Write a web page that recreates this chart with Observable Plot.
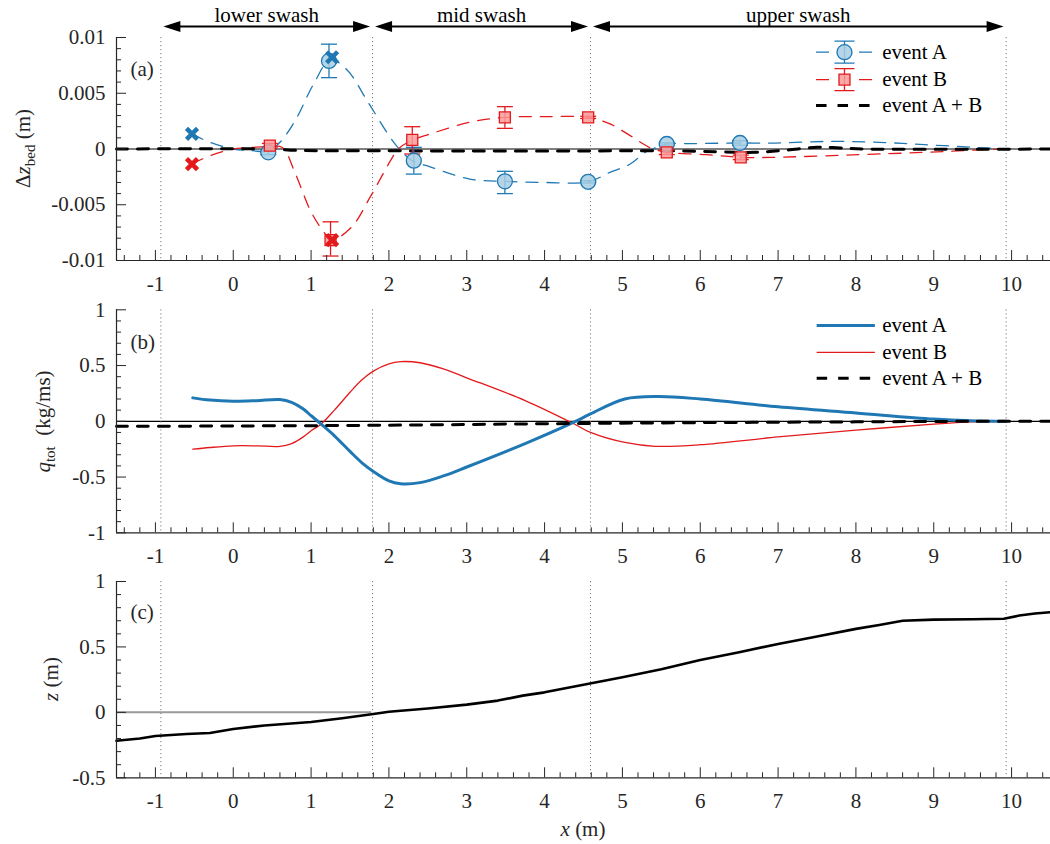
<!DOCTYPE html>
<html>
<head>
<meta charset="utf-8">
<script src="https://cdn.jsdelivr.net/npm/d3@7"></script>
<script src="https://cdn.jsdelivr.net/npm/@observablehq/plot@0.6"></script>
<style>
  body { margin: 0; background: #fff; }
  #chart { width: 1050px; }
  #chart svg { display: block; }
  #chart svg, #chart svg text, #chart svg tspan { font-family: "Liberation Serif", "Times New Roman", Times, serif !important; }
</style>
</head>
<body>
<div id="chart"></div>
<script>
// ---------- shared x axis ----------
const xTicks = [-1, 0, 1, 2, 3, 4, 5, 6, 7, 8, 9, 10];
const xTickLabels = ["-1", "0", "1", "2", "3", "4", "5", "6", "7", "8", "9", "10"];
const xMinor = d3.range(-7, 53).filter(i => i % 5 !== 0).map(i => i / 5);
const zoneEdges = [-0.93, 1.79, 4.59, 9.93];
const zoneNames = ["lower swash", "mid swash", "upper swash"];

// ---------- panel (a): bed change ----------
const yTicksA = [-0.01, -0.005, 0, 0.005, 0.01];
const yTickLabelsA = ["-0.01", "-0.005", "0", "0.005", "0.01"];
const yMinorA = d3.range(-10, 11).filter(i => i % 5 !== 0).map(i => i / 1000);

const dzCurveAx = [-0.53, -0.3, 0, 0.25, 0.45, 0.6, 0.8, 1.03, 1.25, 1.46, 1.74, 2.02, 2.12, 2.3, 2.53, 3.04, 3.5, 4.0, 4.56, 4.84, 5.1, 5.29, 5.39, 5.57, 5.91, 6.5, 6.9, 7.64, 8.3, 8.88, 9.52, 9.93];
const dzCurveAy = [0.00135, 0.0006, 0, -0.00015, -0.0002, 0.0006, 0.0026, 0.0058, 0.0080, 0.0071, 0.0041, 0.0010, 0.0001, -0.00105, -0.0016, -0.0027, -0.0029, -0.0030, -0.00294, -0.0021, -0.00135, -0.0003, 0, 0.00045, 0.00048, 0.00054, 0.00052, 0.00068, 0.0006, 0.00039, 0.00015, 0];
const dzCurveBx = [-0.53, -0.3, 0, 0.25, 0.47, 0.63, 0.8, 0.99, 1.12, 1.27, 1.52, 1.76, 2.02, 2.12, 2.3, 2.53, 3.04, 3.5, 4.0, 4.56, 4.84, 5.1, 5.27, 5.39, 5.57, 6.08, 6.52, 6.9, 8.03, 8.88, 9.52, 9.93];
const dzCurveBy = [-0.00135, -0.0006, 0, 0.00015, 0.00023, 0.00014, -0.00225, -0.0055, -0.0070, -0.0081, -0.0070, -0.0043, -0.00105, 0, 0.0008, 0.00135, 0.0024, 0.00284, 0.0029, 0.00284, 0.00225, 0.0012, 0.00045, 0, -0.0003, -0.00051, -0.00075, -0.00075, -0.00051, -0.0003, -0.0001, 0];
const dzSumX = [-1.5, 0.5, 0.8, 1.5, 3.0, 4.5, 5.5, 6.2, 6.7, 7.1, 7.5, 7.8, 8.1, 10.5];
const dzSumY = [0, 0, -0.00012, -0.00015, -0.00018, -0.00018, -0.00015, -0.00025, -0.0003, -0.0001, 0.00015, 0.0001, 0, 0];

const ptsAx = [0.45, 1.23, 2.32, 3.49, 4.56, 5.57, 6.51];
const ptsAy = [-0.0003, 0.0079, -0.00105, -0.0029, -0.00294, 0.00045, 0.00054];
const ptsAlo = [-0.0005, 0.0064, -0.00225, -0.0040, -0.00304, 0.00035, 0.00034];
const ptsAhi = [-0.0001, 0.0094, 0.00015, -0.0020, -0.00284, 0.00055, 0.00074];
const ptsBx = [0.47, 1.25, 2.30, 3.49, 4.56, 5.57, 6.52];
const ptsBy = [0.0003, -0.00818, 0.00081, 0.00284, 0.00284, -0.0003, -0.00075];
const ptsBlo = [0.0001, -0.0096, -0.00045, 0.00185, 0.00274, -0.0005, -0.00095];
const ptsBhi = [0.0005, -0.00653, 0.0020, 0.0038, 0.00294, -0.0001, -0.00055];

const crossX = [-0.53, 1.27];
const crossA = [0.00135, 0.00823];
const crossB = [-0.00135, -0.00818];

// ---------- panel (b): transport ----------
const yTicksB = [-1, -0.5, 0, 0.5, 1];
const yTickLabelsB = ["-1", "-0.5", "0", "0.5", "1"];
const yMinorB = d3.range(-10, 11).filter(i => i % 5 !== 0).map(i => i / 10);
const qAx = [-0.52, -0.3, 0, 0.3, 0.6, 0.75, 0.9, 1.0, 1.12, 1.3, 1.5, 1.65, 1.8, 2.0, 2.15, 2.4, 2.7, 3.0, 3.75, 4.37, 4.59, 5.03, 5.46, 6.0, 7.0, 8.0, 9.0, 9.48, 9.93];
const qAy = [0.21, 0.19, 0.18, 0.185, 0.195, 0.17, 0.11, 0.05, -0.02, -0.13, -0.27, -0.37, -0.45, -0.535, -0.56, -0.55, -0.49, -0.41, -0.20, -0.01, 0.066, 0.20, 0.222, 0.20, 0.13, 0.075, 0.02, 0.005, 0];
const qBx = [-0.52, -0.3, 0, 0.3, 0.6, 0.75, 0.9, 1.0, 1.12, 1.3, 1.5, 1.65, 1.8, 2.0, 2.15, 2.4, 2.7, 3.0, 3.75, 4.37, 4.59, 5.03, 5.42, 6.0, 7.0, 8.0, 9.0, 9.5, 9.93];
const qBy = [-0.25, -0.235, -0.22, -0.22, -0.225, -0.2, -0.14, -0.085, -0.03, 0.10, 0.26, 0.37, 0.45, 0.515, 0.535, 0.525, 0.47, 0.39, 0.186, -0.02, -0.10, -0.19, -0.224, -0.21, -0.14, -0.08, -0.025, -0.005, 0];
const qSumX = [-1.5, 0, 2, 4, 6, 8, 9.5, 10.5];
const qSumY = [-0.045, -0.042, -0.035, -0.022, -0.012, -0.005, 0, 0];

// ---------- panel (c): bed profile ----------
const yTicksC = [-0.5, 0, 0.5, 1];
const yTickLabelsC = ["-0.5", "0", "0.5", "1"];
const yMinorC = d3.range(-5, 11).filter(i => i % 5 !== 0).map(i => i / 10);
const profX = [-1.5, -1.2, -1.0, -0.6, -0.3, 0, 0.4, 1.0, 1.4, 1.8, 2.0, 2.5, 3.0, 3.4, 3.72, 4.0, 4.6, 5.0, 5.5, 6.0, 6.5, 7.0, 7.5, 8.0, 8.3, 8.6, 9.0, 9.5, 9.9, 10.1, 10.3, 10.5];
const profZ = [-0.217, -0.2, -0.18, -0.165, -0.158, -0.127, -0.1, -0.074, -0.045, -0.013, 0.005, 0.03, 0.059, 0.09, 0.128, 0.153, 0.222, 0.268, 0.33, 0.40, 0.46, 0.523, 0.58, 0.638, 0.667, 0.70, 0.709, 0.712, 0.715, 0.74, 0.755, 0.765];
const shorelineX = 1.78;

const legendLabels = ["event A", "event B", "event A + B"];

// ---------- styling ----------
const blueC = "#1f78b4", blueF = "#a6cee3", redC = "#e31a1c", redF = "#fb9a99";
const axisC = "#262626";
const FONT = "'Liberation Serif', 'Times New Roman', Times, serif";

const rows = (xs, ys) => xs.map((x, i) => ({x, y: ys[i]}));
const errRows = (xs, ys, lo, hi) => xs.map((x, i) => ({x, y: ys[i], lo: lo[i], hi: hi[i]}));

// custom symbols (pixel geometry)
const capSym = {draw(c) { c.moveTo(-8, 0); c.lineTo(8, 0); }};
const crossSym = {draw(c) { c.moveTo(-5.5, -5.5); c.lineTo(5.5, 5.5); c.moveTo(5.5, -5.5); c.lineTo(-5.5, 5.5); }};
const legErrSym = {draw(c) { c.moveTo(0, -11); c.lineTo(0, 11); c.moveTo(-10, -11); c.lineTo(10, -11); c.moveTo(-10, 11); c.lineTo(10, 11); }};
const headLeft = {draw(c) { c.moveTo(2.5, 0); c.lineTo(19.5, -5.5); c.lineTo(19.5, 5.5); c.closePath(); }};
const headRight = {draw(c) { c.moveTo(-2.5, 0); c.lineTo(-19.5, -5.5); c.lineTo(-19.5, 5.5); c.closePath(); }};

function axes(yDomain, yTicks, yLabels, yMinor) {
  return [
    Plot.ruleX([-1.5], {stroke: axisC, strokeWidth: 1.2}),
    Plot.ruleY([yDomain[0]], {stroke: axisC, strokeWidth: 1.2}),
    Plot.axisX(xMinor, {tickSize: -5, tickFormat: () => "", label: null, stroke: axisC}),
    Plot.axisX(xTicks, {tickSize: -10, tickPadding: 25.6, label: null, stroke: axisC, fill: axisC, fontFamily: FONT, fontSize: 21,
      tickFormat: d => xTickLabels[xTicks.indexOf(d)]}),
    Plot.axisY(yMinor, {tickSize: -5, tickFormat: () => "", label: null, stroke: axisC}),
    Plot.axisY(yTicks, {tickSize: -10, tickPadding: 21, label: null, stroke: axisC, fill: axisC, fontFamily: FONT, fontSize: 21,
      tickFormat: d => yLabels[yTicks.indexOf(d)]})
  ];
}

const common = {
  width: 1050, marginLeft: 116, marginRight: 0,
  x: {domain: [-1.5, 10.5]},
  style: {fontFamily: FONT, fontSize: "21px", color: axisC, background: "white", overflow: "visible"}
};
const dotted = () => Plot.ruleX(zoneEdges, {stroke: "#7a7a7a", strokeWidth: 1, strokeDasharray: "1.2,2.8"});
const panelLabel = (t, dy) => Plot.text([t], {text: d => d, frameAnchor: "top-left", dx: 14, dy, textAnchor: "start", fill: axisC, fontFamily: FONT, fontSize: 21});

function addLabel(svg, x, y, parts, rotate = true) {
  const t = d3.select(svg).append("text")
    .attr("transform", rotate ? `translate(${x},${y}) rotate(-90)` : `translate(${x},${y})`)
    .attr("text-anchor", "middle").attr("font-family", FONT).attr("font-size", 21).attr("fill", axisC);
  parts.forEach(p => {
    const s = t.append("tspan").text(p.t);
    if (p.i) s.attr("font-style", "italic");
    if (p.sub) s.attr("font-size", 15).attr("dy", 5);
    if (p.up) s.attr("dy", -5);
  });
}

const zones = zoneNames.map((name, i) => ({name, x1: zoneEdges[i], x2: zoneEdges[i + 1]}));

// ---------- panel (a) ----------
const ptsA = errRows(ptsAx, ptsAy, ptsAlo, ptsAhi);
const ptsB = errRows(ptsBx, ptsBy, ptsBlo, ptsBhi);
const legA = legendLabels.map((label, i) => ({label, y: [0.00868, 0.00623, 0.0039][i]}));
const legAx1 = 7.494, legAx2 = 8.213, legAxm = 7.853, legTextX = 8.338;
const topY = () => 0.01;

const plotA = Plot.plot({
  ...common, height: 295, marginTop: 37, marginBottom: 35,
  y: {domain: [-0.01, 0.01]},
  marks: [
    Plot.ruleY([0], {stroke: "black", strokeWidth: 1.2}),
    dotted(),
    Plot.line(rows(dzCurveAx, dzCurveAy), {x: "x", y: "y", curve: "catmull-rom", stroke: blueC, strokeWidth: 1.3, strokeDasharray: "12,9"}),
    Plot.line(rows(dzCurveBx, dzCurveBy), {x: "x", y: "y", curve: "catmull-rom", stroke: redC, strokeWidth: 1.3, strokeDasharray: "12,9"}),
    Plot.line(rows(dzSumX, dzSumY), {x: "x", y: "y", curve: "catmull-rom", stroke: "black", strokeWidth: 3, strokeDasharray: "11,10"}),
    // error bars
    Plot.ruleX(ptsA, {x: "x", y1: "lo", y2: "hi", stroke: blueC, strokeWidth: 1.3}),
    Plot.dot(ptsA, {x: "x", y: "lo", symbol: capSym, r: 3, stroke: blueC, fill: "none", strokeWidth: 1.3}),
    Plot.dot(ptsA, {x: "x", y: "hi", symbol: capSym, r: 3, stroke: blueC, fill: "none", strokeWidth: 1.3}),
    Plot.ruleX(ptsB, {x: "x", y1: "lo", y2: "hi", stroke: redC, strokeWidth: 1.3}),
    Plot.dot(ptsB, {x: "x", y: "lo", symbol: capSym, r: 3, stroke: redC, fill: "none", strokeWidth: 1.3}),
    Plot.dot(ptsB, {x: "x", y: "hi", symbol: capSym, r: 3, stroke: redC, fill: "none", strokeWidth: 1.3}),
    Plot.dot(ptsA, {x: "x", y: "y", symbol: "circle", r: 7.5, fill: blueF, fillOpacity: 0.85, stroke: blueC, strokeWidth: 1.3}),
    Plot.dot(ptsB, {x: "x", y: "y", symbol: "square", r: 6.2, fill: redF, fillOpacity: 0.85, stroke: redC, strokeWidth: 1.3}),
    Plot.dot(rows(crossX, crossA), {x: "x", y: "y", symbol: crossSym, r: 5, stroke: blueC, fill: "none", strokeWidth: 4.5}),
    Plot.dot(rows(crossX, crossB), {x: "x", y: "y", symbol: crossSym, r: 5, stroke: redC, fill: "none", strokeWidth: 4.5}),
    // zone arrows
    Plot.ruleY(zones, {y: topY, x1: "x1", x2: "x2", dy: -11, insetLeft: 8, insetRight: 8, stroke: "black", strokeWidth: 2}),
    Plot.dot(zones, {x: "x1", y: topY, dy: -11, symbol: headLeft, r: 5, fill: "black", stroke: "none"}),
    Plot.dot(zones, {x: "x2", y: topY, dy: -11, symbol: headRight, r: 5, fill: "black", stroke: "none"}),
    Plot.text(zones, {x: d => (d.x1 + d.x2) / 2, y: topY, dy: -22, text: "name", fill: "black", fontFamily: FONT, fontSize: 21}),
    // legend
    Plot.ruleY([legA[0]], {y: "y", x1: () => legAx1, x2: () => legAx2, stroke: blueC, strokeWidth: 1.3, strokeDasharray: "13,30,13"}),
    Plot.ruleY([legA[1]], {y: "y", x1: () => legAx1, x2: () => legAx2, stroke: redC, strokeWidth: 1.3, strokeDasharray: "13,30,13"}),
    Plot.ruleY([legA[2]], {y: "y", x1: () => legAx1, x2: () => legAx2, stroke: "black", strokeWidth: 3, strokeDasharray: "10.5,11"}),
    Plot.dot([legA[0]], {x: () => legAxm, y: "y", symbol: legErrSym, r: 5, stroke: blueC, fill: "none", strokeWidth: 1.3}),
    Plot.dot([legA[1]], {x: () => legAxm, y: "y", symbol: legErrSym, r: 5, stroke: redC, fill: "none", strokeWidth: 1.3}),
    Plot.dot([legA[0]], {x: () => legAxm, y: "y", symbol: "circle", r: 7.5, fill: blueF, fillOpacity: 0.85, stroke: blueC, strokeWidth: 1.3}),
    Plot.dot([legA[1]], {x: () => legAxm, y: "y", symbol: "square", r: 6.2, fill: redF, fillOpacity: 0.85, stroke: redC, strokeWidth: 1.3}),
    Plot.text(legA, {x: () => legTextX, y: "y", text: "label", textAnchor: "start", fill: "black", fontFamily: FONT, fontSize: 21}),
    panelLabel("(a)", 23.6),
    ...axes([-0.01, 0.01], yTicksA, yTickLabelsA, yMinorA)
  ]
});
addLabel(plotA, 30, 148.5, [{t: "Δ"}, {t: "z", i: true}, {t: "bed", sub: true}, {t: " (m)", up: true}]);

// ---------- panel (b) ----------
const legB = legendLabels.map((label, i) => ({label, y: [0.859, 0.619, 0.386][i]}));
const legBx1 = 7.502, legBx2 = 8.25;
const plotB = Plot.plot({
  ...common, height: 270, marginTop: 14.3, marginBottom: 32.7,
  y: {domain: [-1, 1]},
  marks: [
    Plot.ruleY([0], {stroke: "black", strokeWidth: 1.3}),
    dotted(),
    Plot.line(rows(qBx, qBy), {x: "x", y: "y", curve: "catmull-rom", stroke: redC, strokeWidth: 1.3}),
    Plot.line(rows(qAx, qAy), {x: "x", y: "y", curve: "catmull-rom", stroke: blueC, strokeWidth: 3}),
    Plot.line(rows(qSumX, qSumY), {x: "x", y: "y", curve: "catmull-rom", stroke: "black", strokeWidth: 3, strokeDasharray: "11,10"}),
    Plot.ruleY([legB[0]], {y: "y", x1: () => legBx1, x2: () => legBx2, stroke: blueC, strokeWidth: 3}),
    Plot.ruleY([legB[1]], {y: "y", x1: () => legBx1, x2: () => legBx2, stroke: redC, strokeWidth: 1.3}),
    Plot.ruleY([legB[2]], {y: "y", x1: () => legBx1, x2: () => legBx2, stroke: "black", strokeWidth: 3, strokeDasharray: "10.5,11"}),
    Plot.text(legB, {x: () => legTextX, y: "y", text: "label", textAnchor: "start", fill: "black", fontFamily: FONT, fontSize: 21}),
    panelLabel("(b)", 24.7),
    ...axes([-1, 1], yTicksB, yTickLabelsB, yMinorB)
  ]
});
addLabel(plotB, 50, 126.5, [{t: "q", i: true}, {t: "tot", sub: true}, {t: "  (kg/ms)", up: true}]);

// ---------- panel (c) ----------
const plotC = Plot.plot({
  ...common, height: 279, marginTop: 16, marginBottom: 66.7,
  y: {domain: [-0.5, 1]},
  marks: [
    Plot.ruleY([{y: 0, x1: -1.5, x2: shorelineX}], {y: "y", x1: "x1", x2: "x2", stroke: "#9a9a9a", strokeWidth: 2}),
    dotted(),
    Plot.line(rows(profX, profZ), {x: "x", y: "y", stroke: "black", strokeWidth: 2.6}),
    panelLabel("(c)", 22.3),
    ...axes([-0.5, 1], yTicksC, yTickLabelsC, yMinorC)
  ]
});
addLabel(plotC, 58, 114, [{t: "z", i: true}, {t: " (m)"}]);
addLabel(plotC, 583, 271, [{t: "x", i: true}, {t: " (m)"}], false);

const chart = document.getElementById("chart");
chart.append(plotA, plotB, plotC);
</script>
</body>
</html>
